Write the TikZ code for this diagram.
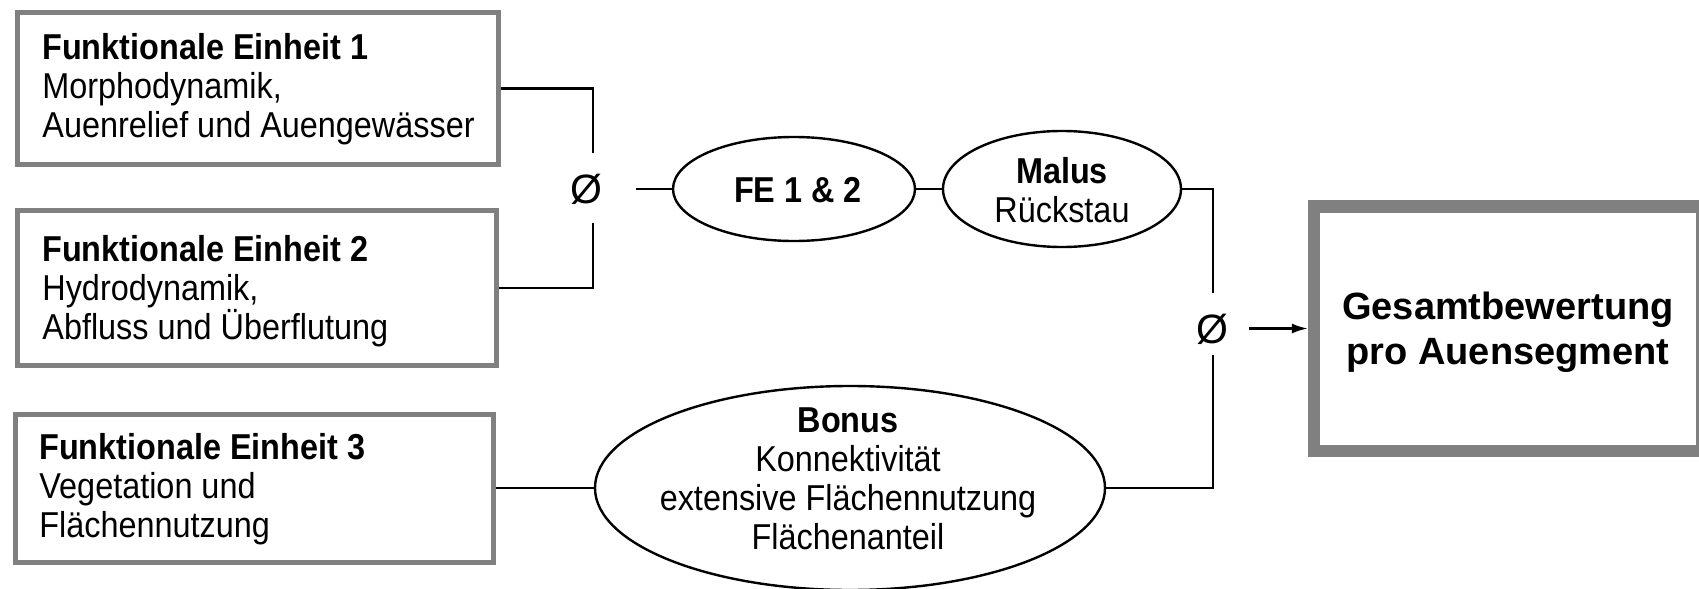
\documentclass[tikz,border=0pt]{standalone}
\usepackage{fontspec}
\setmainfont{Liberation Sans}[FakeStretch=0.9]
\newfontfamily\widefont{Liberation Sans}
\usetikzlibrary{shapes.geometric,arrows.meta}
\definecolor{boxgray}{RGB}{128,128,128}
\begin{document}
\begin{tikzpicture}[x=0.5pt,y=-0.5pt,
  conn/.style={line width=1.2pt, draw=black},
  fbox/.style={rectangle, draw=boxgray, line width=2.5pt, inner sep=0pt},
  bigbox/.style={rectangle, draw=boxgray, line width=6.25pt, inner sep=0pt},
  bigtxt/.style={inner sep=0pt, align=center, font=\widefont\bfseries\fontsize{19pt}{22.5pt}\selectfont},
  ell/.style={ellipse, draw=black, line width=1.2pt, inner sep=0pt},
  txt/.style={inner sep=0pt, align=left, font=\fontsize{18pt}{19.5pt}\selectfont},
  ctxt/.style={inner sep=0pt, align=center, font=\fontsize{18pt}{19.5pt}\selectfont},
  avg/.style={inner sep=0pt, font=\widefont\fontsize{20.5pt}{22pt}\selectfont},
  arrowtip/.style={-{Latex[length=8pt,width=5pt]}}]
\useasboundingbox (0,0) rectangle (1699,589);
\clip (0,0) rectangle (1699,589);

% boxes
\node[fbox, minimum width=240.65pt, minimum height=76pt] (b1) at (257.85,88.5) {};
\node[fbox, minimum width=239.65pt, minimum height=77.5pt] (b2) at (256.85,288) {};
\node[fbox, minimum width=239pt, minimum height=74pt] (b3) at (254,488) {};
\node[bigbox, minimum width=193.9pt, minimum height=122.25pt] (b4) at (1508.1,328.5) {};
\node[bigtxt] (b4t) at (1508,332) {Gesamtbewertung\\pro Auensegment};

% box texts
\node[txt, anchor=west] (t1) at (42,89) {\textbf{Funktionale Einheit 1}\\Morphodynamik,\\Auenrelief und Auengewässer};
\node[txt, anchor=west] (t2) at (42,291) {\textbf{Funktionale Einheit 2}\\Hydrodynamik,\\Abfluss und Überflutung};
\node[txt, anchor=west] (t3) at (39,489) {\textbf{Funktionale Einheit 3}\\Vegetation und\\Flächennutzung};

% ellipses
\node[ell, minimum width=121pt, minimum height=52pt] (fe) at (794,189) {};
\node[ell, minimum width=119pt, minimum height=58pt] (malus) at (1062,189) {};
\node[ell, minimum width=255pt, minimum height=102pt] (bonus) at (850,488) {};
\node[ctxt] (fet) at (798,190) {\textbf{FE 1 \& 2}};
\node[ctxt] (malust) at (1062,190) {\textbf{Malus}\\Rückstau};
\node[ctxt] (bonust) at (848,479) {\textbf{Bonus}\\Konnektivität\\extensive Flächennutzung\\Flächenanteil};

% average symbols
\node[avg] (o1) at (586,189) {Ø};
\node[avg] (o2) at (1212,329) {Ø};

\coordinate (o1n) at (593,153);
\coordinate (o1s) at (593,223);
\coordinate (o1e) at (636,189);
\coordinate (o2n) at (1213,293);
\coordinate (o2s) at (1213,355);
\coordinate (o2e) at (1249,328.5);

% connectors
\draw[conn] (b1.east) -| (o1n);
\draw[conn] (b2.east) -| (o1s);
\draw[conn] (o1e) -- (fe.west);
\draw[conn] (fe.east) -- (malus.west);
\draw[conn] (malus.east) -| (o2n);
\draw[conn] (bonus.east) -| (o2s);
\draw[conn] (b3.east) -- (bonus.west);
\draw[conn, arrowtip] (o2e) -- (b4.west);
\end{tikzpicture}
\end{document}
